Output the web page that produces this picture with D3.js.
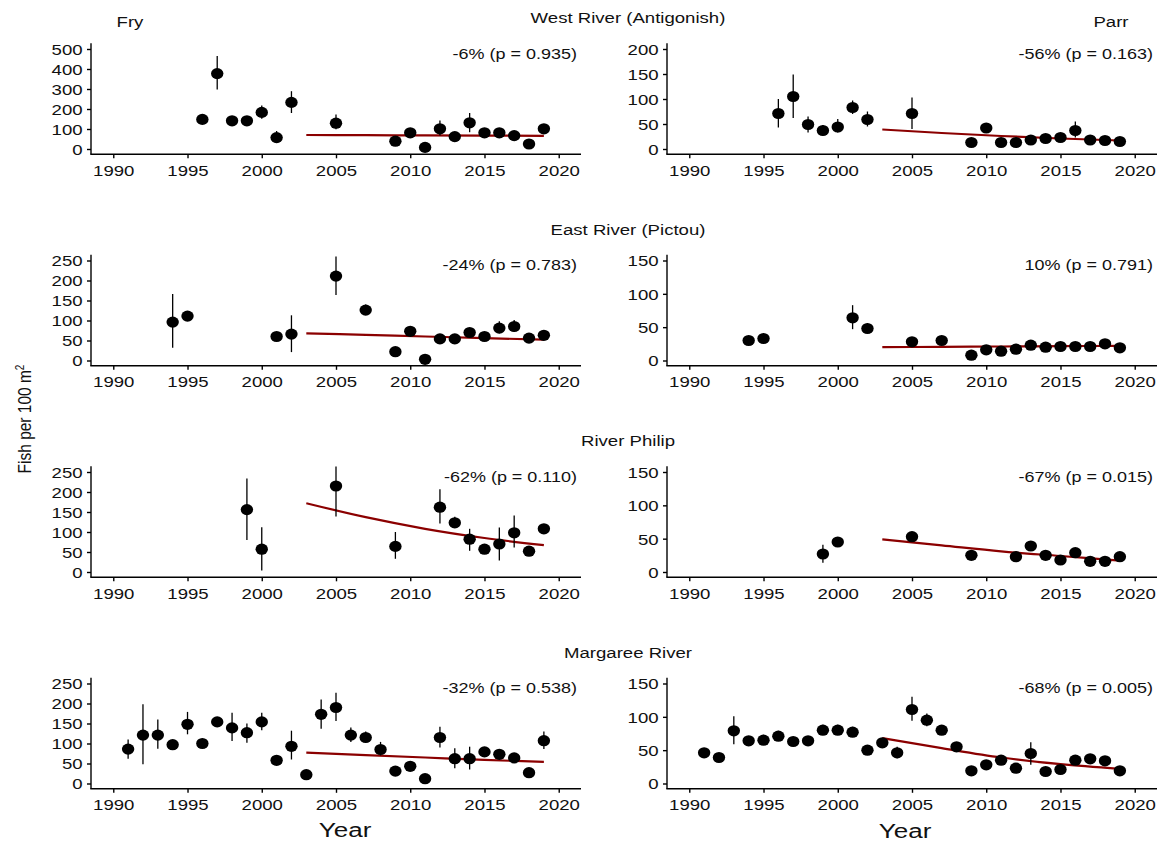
<!DOCTYPE html>
<html>
<head>
<meta charset="utf-8">
<script src="https://cdn.jsdelivr.net/npm/d3@7"></script>
<style>
  body { margin: 0; background: #fff; }
  svg { display: block; }
  text { font-family: "Liberation Sans", Arial, sans-serif; fill: #111; }
</style>
</head>
<body>
<div id="chart"></div>
<script>
// ---- data ----
var rivers = ["West River (Antigonish)", "East River (Pictou)", "River Philip", "Margaree River"];
var stages = ["Fry", "Parr"];
var xTicks = [1990, 1995, 2000, 2005, 2010, 2015, 2020];
var trendYears = [2003, 2007, 2011, 2015, 2019];

// West River fry
var westFryYears = [1996, 1997, 1998, 1999, 2000, 2001, 2002, 2005, 2009, 2010, 2011, 2012, 2013, 2014, 2015, 2016, 2017, 2018, 2019];
var westFryMean = [148, 377, 141, 141, 183, 57, 233, 129, 39, 81, 8, 101, 62, 131, 81, 81, 67, 25, 101];
var westFryLo = [138, 297, 131, 131, 151, 38, 180, 99, 20, 70, 2, 67, 50, 84, 70, 70, 56, 15, 86];
var westFryHi = [158, 465, 151, 151, 218, 90, 289, 173, 60, 92, 14, 143, 75, 180, 92, 92, 78, 35, 118];
var westFryTrend = [70, 69, 68, 67, 66];

// West River parr
var westParrYears = westFryYears;
var westParrMean = [71, 105, 49, 37, 44, 83, 59, 71, 13, 42, 13, 13, 18, 21, 23, 37, 18, 17, 15];
var westParrLo = [43, 62, 33, 27, 33, 70, 45, 40, 9, 36, 9, 9, 14, 17, 19, 23, 14, 13, 11];
var westParrHi = [100, 149, 65, 48, 60, 97, 75, 103, 17, 48, 17, 17, 22, 25, 27, 55, 22, 21, 19];
var westParrTrend = [39, 32, 26, 21, 17];

// East River fry
var eastFryYears = [1994, 1995, 2001, 2002, 2005, 2007, 2009, 2010, 2011, 2012, 2013, 2014, 2015, 2016, 2017, 2018, 2019];
var eastFryMean = [96, 111, 60, 66, 211, 126, 22, 73, 3, 54, 54, 70, 60, 81, 85, 56, 63];
var eastFryLo = [32, 104, 54, 21, 164, 114, 16, 66, 0, 48, 48, 62, 54, 68, 72, 50, 57];
var eastFryHi = [166, 118, 66, 113, 260, 140, 28, 80, 7, 60, 60, 78, 66, 98, 101, 62, 69];
var eastFryTrend = [68, 64, 60, 56, 52];

// East River parr
var eastParrYears = eastFryYears;
var eastParrMean = [30, 33, 64, 48, 28, 30, 8, 16, 14, 17, 23, 20, 21, 21, 21, 25, 19];
var eastParrLo = [27, 30, 47, 42, 25, 27, 5, 13, 11, 14, 20, 17, 18, 18, 18, 22, 16];
var eastParrHi = [33, 36, 83, 56, 31, 33, 11, 19, 17, 20, 26, 23, 24, 24, 24, 28, 22];
var eastParrTrend = [20, 20.5, 21, 21.5, 22];

// River Philip fry
var philipFryYears = [1999, 2000, 2005, 2009, 2012, 2013, 2014, 2015, 2016, 2017, 2018, 2019];
var philipFryMean = [156, 57, 215, 64, 162, 123, 82, 57, 70, 98, 52, 108];
var philipFryLo = [80, 4, 139, 33, 121, 110, 53, 50, 29, 61, 44, 100];
var philipFryHi = [234, 112, 264, 100, 207, 138, 108, 64, 111, 141, 62, 116];
var philipFryTrend = [172, 137, 108, 85, 67];

// River Philip parr
var philipParrYears = philipFryYears;
var philipParrMean = [27, 45, 53, 25, 23, 39, 25, 18, 29, 16, 16, 23];
var philipParrLo = [14, 42, 50, 20, 20, 35, 21, 15, 26, 13, 13, 20];
var philipParrHi = [41, 48, 56, 30, 26, 43, 29, 21, 32, 19, 19, 26];
var philipParrTrend = [49, 40, 31, 24, 17];

// Margaree River fry
var margareeYears = [1991, 1992, 1993, 1994, 1995, 1996, 1997, 1998, 1999, 2000, 2001, 2002, 2003, 2004, 2005, 2006, 2007, 2008, 2009, 2010, 2011, 2012, 2013, 2014, 2015, 2016, 2017, 2018, 2019];
var margareeFryMean = [86, 121, 121, 97, 148, 100, 154, 139, 127, 154, 58, 93, 22, 173, 190, 121, 115, 85, 31, 43, 12, 115, 62, 62, 79, 73, 64, 27, 107];
var margareeFryLo = [62, 48, 87, 90, 123, 90, 148, 106, 102, 133, 52, 60, 16, 137, 156, 104, 102, 70, 25, 37, 6, 90, 38, 35, 70, 66, 58, 21, 86];
var margareeFryHi = [110, 198, 160, 106, 179, 112, 162, 177, 150, 177, 64, 132, 28, 210, 227, 140, 130, 104, 37, 49, 18, 142, 88, 92, 90, 82, 72, 33, 130];
var margareeFryTrend = [77, 71, 65, 59, 54];

// Margaree River parr
var margareeParrMean = [46, 39, 79, 64, 65, 71, 63, 64, 80, 80, 77, 50, 61, 46, 111, 95, 80, 55, 19, 28, 35, 23, 45, 18, 21, 35, 37, 34, 19];
var margareeParrLo = [40, 34, 59, 57, 58, 64, 58, 59, 73, 73, 70, 46, 56, 38, 94, 86, 75, 50, 15, 24, 30, 19, 28, 14, 17, 30, 33, 30, 15];
var margareeParrHi = [53, 44, 101, 71, 73, 79, 68, 69, 88, 88, 85, 54, 66, 55, 130, 105, 87, 62, 23, 32, 40, 27, 62, 22, 25, 40, 42, 38, 23];
var margareeParrTrend = [68, 53, 39, 29, 22];

var yTicksTop = [[0, 100, 200, 300, 400, 500], [0, 50, 100, 150, 200]];
var yTicksFry = [0, 50, 100, 150, 200, 250];
var yTicksParr = [0, 50, 100, 150];

var panels = [
  { row: 0, col: 0, years: westFryYears, mean: westFryMean, lo: westFryLo, hi: westFryHi, trend: westFryTrend, ticks: yTicksTop[0], note: "-6% (p = 0.935)" },
  { row: 0, col: 1, years: westParrYears, mean: westParrMean, lo: westParrLo, hi: westParrHi, trend: westParrTrend, ticks: yTicksTop[1], note: "-56% (p = 0.163)" },
  { row: 1, col: 0, years: eastFryYears, mean: eastFryMean, lo: eastFryLo, hi: eastFryHi, trend: eastFryTrend, ticks: yTicksFry, note: "-24% (p = 0.783)" },
  { row: 1, col: 1, years: eastParrYears, mean: eastParrMean, lo: eastParrLo, hi: eastParrHi, trend: eastParrTrend, ticks: yTicksParr, note: "10% (p = 0.791)" },
  { row: 2, col: 0, years: philipFryYears, mean: philipFryMean, lo: philipFryLo, hi: philipFryHi, trend: philipFryTrend, ticks: yTicksFry, note: "-62% (p = 0.110)" },
  { row: 2, col: 1, years: philipParrYears, mean: philipParrMean, lo: philipParrLo, hi: philipParrHi, trend: philipParrTrend, ticks: yTicksParr, note: "-67% (p = 0.015)" },
  { row: 3, col: 0, years: margareeYears, mean: margareeFryMean, lo: margareeFryLo, hi: margareeFryHi, trend: margareeFryTrend, ticks: yTicksFry, note: "-32% (p = 0.538)" },
  { row: 3, col: 1, years: margareeYears, mean: margareeParrMean, lo: margareeParrLo, hi: margareeParrHi, trend: margareeParrTrend, ticks: yTicksParr, note: "-68% (p = 0.005)" }
];

// ---- layout ----
var W = 1160, H = 846;
var SX = 1.24;               // the source picture is stretched sideways
var rowStep = 211.5;
var colX = [91, 667], panelW = 490;

var svg = d3.select("#chart").append("svg")
  .attr("width", W).attr("height", H);

function stretched(g, x, y, txt, size, anchor) {
  return g.append("text")
    .attr("transform", "translate(" + x + "," + y + ") scale(" + SX + ",1)")
    .attr("text-anchor", anchor || "middle")
    .style("font-size", size + "px")
    .text(txt);
}

panels.forEach(function (p) {
  var dy = p.row * rowStep;
  var x0 = colX[p.col];
  var top = p.ticks[p.ticks.length - 1];

  var x = d3.scaleLinear().domain([1988.5, 2021.5]).range([x0, x0 + panelW]);
  var y = d3.scaleLinear().domain([0, top]).range([149 + dy, 49 + dy]);

  var g = svg.append("g");

  // axis lines
  g.append("line").attr("x1", x0).attr("x2", x0)
    .attr("y1", 43.3 + dy).attr("y2", 154.3 + dy)
    .attr("stroke", "#000").attr("stroke-width", 1.4);
  g.append("line").attr("x1", x0 - 0.7).attr("x2", x0 + panelW)
    .attr("y1", 154.3 + dy).attr("y2", 154.3 + dy)
    .attr("stroke", "#000").attr("stroke-width", 1.4);

  var ax = g.append("g").attr("transform", "translate(0," + (154.3 + dy) + ")")
    .call(d3.axisBottom(x).tickValues(xTicks).tickFormat(d3.format("d")).tickSize(4).tickPadding(7));
  ax.select(".domain").remove();
  ax.selectAll("line").attr("stroke", "#000").attr("stroke-width", 1.4);
  ax.selectAll("text").attr("fill", null).style("font-size", "15px")
    .attr("transform", "scale(" + SX + ",1)");

  var ay = g.append("g").attr("transform", "translate(" + x0 + ",0)")
    .call(d3.axisLeft(y).tickValues(p.ticks).tickFormat(d3.format("d")).tickSize(4));
  ay.select(".domain").remove();
  ay.selectAll("line").attr("stroke", "#000").attr("stroke-width", 1.4);
  ay.selectAll("text").attr("fill", null).style("font-size", "15px")
    .attr("x", -8.4 / SX).attr("dy", "0.36em")
    .attr("transform", "scale(" + SX + ",1)");

  // trend line
  var tr = trendYears.map(function (yr, i) { return [yr, p.trend[i]]; });
  g.append("path").datum(tr)
    .attr("fill", "none").attr("stroke", "#8b0000").attr("stroke-width", 2.2)
    .attr("d", d3.line().x(function (d) { return x(d[0]); }).y(function (d) { return y(d[1]); })
      .curve(d3.curveMonotoneX));

  var pts = p.years.map(function (yr, i) { return { yr: yr, m: p.mean[i], lo: p.lo[i], hi: p.hi[i] }; });

  // error bars
  g.selectAll(".err").data(pts).enter().append("line")
    .attr("x1", function (d) { return x(d.yr); }).attr("x2", function (d) { return x(d.yr); })
    .attr("y1", function (d) { return y(d.lo); }).attr("y2", function (d) { return y(d.hi); })
    .attr("stroke", "#000").attr("stroke-width", 1.3);

  // points
  g.selectAll(".pt").data(pts).enter().append("ellipse")
    .attr("cx", function (d) { return x(d.yr); })
    .attr("cy", function (d) { return y(d.m); })
    .attr("rx", 6.2).attr("ry", 5.6)
    .attr("fill", "#000");

  // percent change note
  stretched(g, x0 + panelW - 4, 58.5 + dy, p.note, 14.5, "end");
});

// row titles
rivers.forEach(function (r, i) {
  stretched(svg, 628, 23 + i * rowStep, r, 15);
});

// stage labels
stretched(svg, 130, 27, stages[0], 15);
stretched(svg, 1111, 27, stages[1], 15);

// x titles
stretched(svg, 345, 837, "Year", 21);
stretched(svg, 905, 838, "Year", 21);

// y title
var yl = svg.append("text")
  .attr("transform", "translate(31,419) rotate(-90) scale(1," + SX + ")")
  .attr("text-anchor", "middle")
  .style("font-size", "15.5px");
yl.append("tspan").text("Fish per 100 m");
yl.append("tspan").attr("dy", -6).style("font-size", "10px").text("2");
</script>
</body>
</html>
